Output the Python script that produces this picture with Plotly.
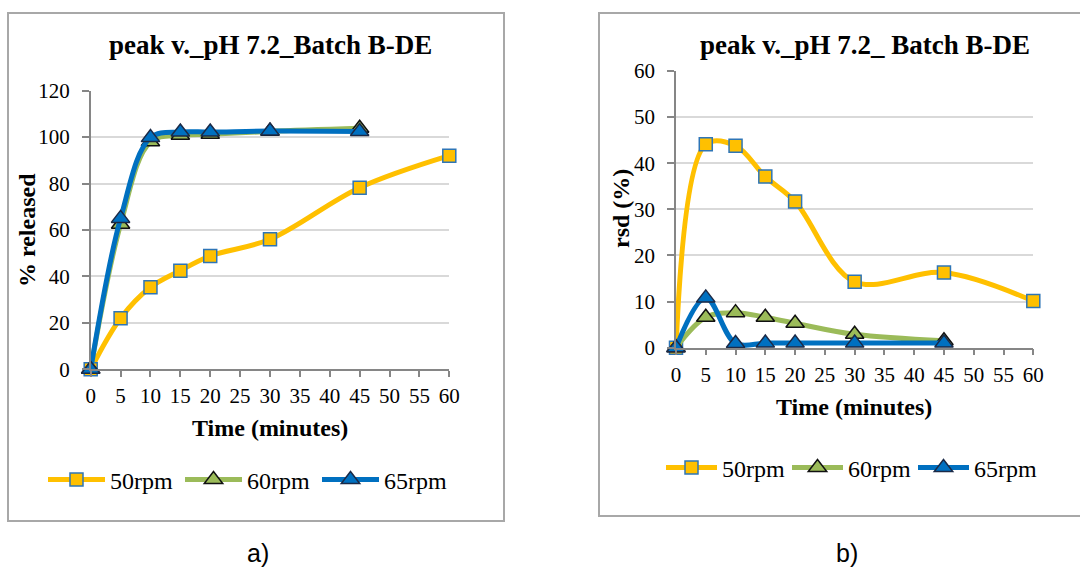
import plotly.graph_objects as go

# ---------------- data ----------------
time_50 = [0, 5, 10, 15, 20, 30, 45, 60]
time_60_65 = [0, 5, 10, 15, 20, 30, 45]

released_50 = [0, 22.0, 35.3, 42.5, 48.8, 56.0, 78.2, 92.0]
released_60 = [0, 62.5, 98.0, 100.8, 101.2, 102.5, 103.8]
released_65 = [0, 65.0, 99.8, 102.2, 102.2, 102.6, 102.4]

rsd_50 = [0, 44.1, 43.8, 37.1, 31.7, 14.3, 16.3, 10.1]
rsd_60 = [0, 6.6, 7.6, 6.6, 5.3, 2.9, 1.5]
rsd_65 = [0, 10.8, 0.9, 1.0, 1.0, 1.0, 1.0]

series_names = ["50rpm", "60rpm", "65rpm"]
title_a = "peak v._pH 7.2_Batch B-DE"
title_b = "peak v._pH 7.2_ Batch B-DE"
x_title = "Time (minutes)"
y_title_a = "% released"
y_title_b = "rsd (%)"

# ---------------- style ----------------
W, H = 1080, 578
SERIF = "Liberation Serif, Times New Roman, Tinos, DejaVu Serif, serif"
GOLD, GREEN, BLUE = "#FFC000", "#9BBB59", "#0070C0"
AXIS_C, GRID_C = "#868686", "#D9D9D9"


def px(x):
    return x / W


def py(y):
    return 1 - y / H


fig = go.Figure()


def add_series(xs, ys, name, color, symbol, mcolor, mline, xa, ya, legend, size):
    fig.add_trace(go.Scatter(
        x=xs, y=ys, name=name, mode="lines+markers",
        line=dict(color=color, width=5, shape="spline", smoothing=1.0),
        marker=dict(symbol=symbol, size=size, color=mcolor,
                    line=dict(color=mline, width=1.5)),
        xaxis=xa, yaxis=ya, legend=legend, cliponaxis=False,
        hoverinfo="skip",
    ))


# left panel
add_series(time_50, released_50, series_names[0], GOLD, "square", GOLD, "#2E75B6", "x", "y", "legend", 13)
add_series(time_60_65, released_60, series_names[1], GREEN, "triangle-up", GREEN, "#111111", "x", "y", "legend", 16)
add_series(time_60_65, released_65, series_names[2], BLUE, "triangle-up", BLUE, "#1B2A47", "x", "y", "legend", 16)
# right panel
add_series(time_50, rsd_50, series_names[0], GOLD, "square", GOLD, "#2E75B6", "x2", "y2", "legend2", 13)
add_series(time_60_65, rsd_60, series_names[1], GREEN, "triangle-up", GREEN, "#111111", "x2", "y2", "legend2", 16)
add_series(time_60_65, rsd_65, series_names[2], BLUE, "triangle-up", BLUE, "#1B2A47", "x2", "y2", "legend2", 16)

tickfont = dict(family=SERIF, size=21, color="black")

xcommon = dict(range=[0, 60], tickmode="linear", tick0=0, dtick=5,
               ticks="outside", ticklen=6, tickcolor=AXIS_C, tickwidth=1.5,
               showline=True, linecolor=AXIS_C, linewidth=1.5,
               showgrid=False, zeroline=False, tickfont=tickfont,
               ticklabelstandoff=1, fixedrange=True)
ycommon = dict(ticks="outside", ticklen=7, tickcolor=AXIS_C, tickwidth=1.5,
               showline=True, linecolor=AXIS_C, linewidth=1.5,
               showgrid=True, gridcolor=GRID_C, gridwidth=1.5,
               zeroline=False, tickfont=tickfont, ticklabelstandoff=8,
               fixedrange=True)

legend_common = dict(orientation="h", xanchor="left", yanchor="middle",
                     font=dict(family=SERIF, size=24, color="black"),
                     bgcolor="rgba(0,0,0,0)", entrywidthmode="pixels")

fig.update_layout(
    width=W, height=H,
    margin=dict(l=0, r=0, t=0, b=0, pad=0, autoexpand=False),
    paper_bgcolor="white", plot_bgcolor="white",
    xaxis=dict(domain=[px(90.7), px(449.3)], anchor="y", **xcommon),
    yaxis=dict(domain=[py(369.3), py(90.7)], anchor="x", range=[0, 120], dtick=20, **ycommon),
    xaxis2=dict(domain=[px(676), px(1033.3)], anchor="y2", **xcommon),
    yaxis2=dict(domain=[py(347.7), py(71)], anchor="x2", range=[0, 60], dtick=10, **ycommon),
    legend=dict(x=px(43), y=py(480), itemwidth=57, entrywidth=65, **legend_common),
    legend2=dict(x=px(661), y=py(468), itemwidth=51, entrywidth=60, **legend_common),
)

ann_bold = dict(family=SERIF, size=27, color="black")
annotations = [
    dict(text="<b>%s</b>" % title_a, x=px(270), y=py(45), font=ann_bold),
    dict(text="<b>%s</b>" % title_b, x=px(865), y=py(45), font=ann_bold),
    dict(text="<b>%s</b>" % x_title, x=px(270), y=py(428), font=dict(family=SERIF, size=24, color="black")),
    dict(text="<b>%s</b>" % x_title, x=px(854), y=py(407), font=dict(family=SERIF, size=24, color="black")),
    dict(text="<b>%s</b>" % y_title_a, x=px(27), y=py(230), textangle=-90, font=dict(family=SERIF, size=24, color="black")),
    dict(text="<b>%s</b>" % y_title_b, x=px(621), y=py(209), textangle=-90, font=dict(family=SERIF, size=24, color="black")),
    dict(text="a)", x=px(258), y=py(553), font=dict(family="Liberation Sans Narrow, Liberation Sans, sans-serif", size=25, color="black")),
    dict(text="b)", x=px(847), y=py(553), font=dict(family="Liberation Sans Narrow, Liberation Sans, sans-serif", size=25, color="black")),
]
for a in annotations:
    a.update(xref="paper", yref="paper", showarrow=False, xanchor="center", yanchor="middle")
fig.update_layout(annotations=annotations)

# panel borders
fig.add_shape(type="rect", xref="paper", yref="paper",
              x0=px(8), x1=px(504), y0=py(521), y1=py(13),
              line=dict(color="#A8A8A8", width=2), layer="below")
fig.add_shape(type="rect", xref="paper", yref="paper",
              x0=px(599), x1=px(1090), y0=py(516), y1=py(13),
              line=dict(color="#A8A8A8", width=2), layer="below")

fig.write_html(
    "out.html",
    config={"displayModeBar": False},
    post_script="document.body.style.margin='0';document.body.style.overflow='hidden';",
)
